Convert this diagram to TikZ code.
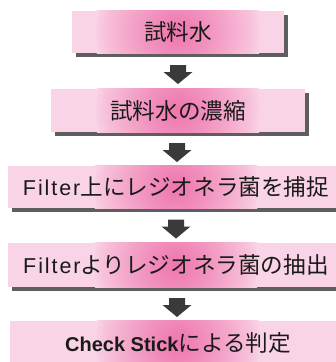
\documentclass[tikz,border=0pt]{standalone}
\usepackage{fontspec}
\setmainfont{Liberation Sans}[LetterSpace=9]
\newfontfamily\plainsans{Liberation Sans}
\newfontfamily\jpfont{Noto Sans CJK JP}
\usetikzlibrary{calc,backgrounds}
\definecolor{pinkC}{HTML}{EE75AC}
\definecolor{pinkE}{HTML}{F9D3E6}
\definecolor{shad}{HTML}{5E5E5E}
\definecolor{arr}{HTML}{3A3A3A}
\definecolor{txt}{HTML}{1A1A1A}
\newcommand{\J}[1]{{\jpfont\fontsize{22.6}{22.6}\selectfont #1}}
\newcommand{\B}[1]{{\plainsans\fontsize{20}{20}\selectfont\bfseries #1}}
\tikzset{
  stepbox/.style={minimum height=43pt, inner sep=0pt, text=txt,
    font=\fontsize{21.5}{21.5}\selectfont},
  shadowfill/.style={fill=shad},
  basefill/.style={fill=pinkE},
  blockarrow/.style={fill=arr}
}
\newcommand{\paintBox}[1]{%
  \begin{scope}[on background layer]
    \fill[shadowfill] ($(#1.south west)+(4,-4)$) rectangle ($(#1.north east)+(4,-4)$);
    \fill[basefill] (#1.south west) rectangle (#1.north east);
    \begin{scope}
      \clip (#1.south west) rectangle (#1.north east);
      \foreach \i in {30,29,...,1} {%
        \pgfmathsetmacro\pc{100*(1-\i/30)^0.8}%
        \fill[pinkC!\pc!pinkE] (#1.center) circle [radius=2.8pt*\i];}
    \end{scope}
  \end{scope}}
\newcommand{\stepArrow}[2]{%
  \coordinate (m#1) at ($(#1.south)!0.5!(#2.north)$);
  \fill[blockarrow] ($(m#1)+(-8,6)$) -- ($(m#1)+(8,6)$) -- ($(m#1)+(8,-1)$) --
    ($(m#1)+(14.5,-1)$) -- ($(m#1)+(0,-13)$) -- ($(m#1)+(-14.5,-1)$) --
    ($(m#1)+(-8,-1)$) -- cycle;}
\begin{document}
\begin{tikzpicture}[x=1pt,y=1pt]
\useasboundingbox (0,0) rectangle (336,-362);
\clip (0,0) rectangle (336,-362);
\node[stepbox, minimum width=212pt, minimum height=42pt] (b1) at (178,-32) {\J{試料水}};
\node[stepbox, minimum width=254pt] (b2) at (178,-110.5) {\J{試料水の濃縮}};
\node[stepbox, minimum width=336pt, minimum height=42pt] (b3) at (176,-187) {Filter\J{上にレジオネラ菌を捕捉}};
\node[stepbox, minimum width=336pt, minimum height=44pt] (b4) at (176,-265) {Filter\J{よりレジオネラ菌の抽出}};
\node[stepbox, minimum width=336pt] (b5) at (178,-342.5) {\B{Check Stick}\J{による判定}};
\paintBox{b1}
\paintBox{b2}
\paintBox{b3}
\paintBox{b4}
\paintBox{b5}
\stepArrow{b1}{b2}
\stepArrow{b2}{b3}
\stepArrow{b3}{b4}
\stepArrow{b4}{b5}
\end{tikzpicture}
\end{document}
